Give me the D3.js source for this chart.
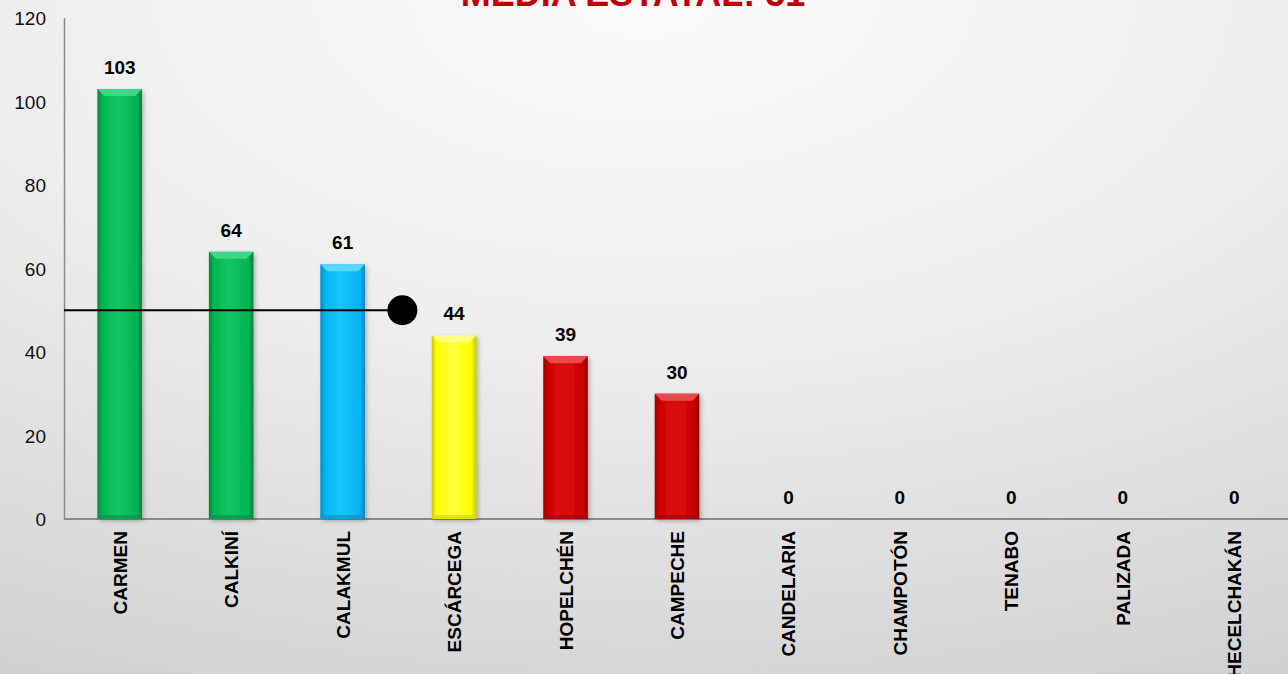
<!DOCTYPE html>
<meta charset="utf-8">
<script src="https://cdn.jsdelivr.net/npm/d3@7"></script>
<style>
body { margin: 0; }
svg { display: block; font-family: "Liberation Sans", Arial, sans-serif; }
.tick-label { font-size: 19px; fill: #111; }
.val { font-size: 19px; font-weight: bold; fill: #000; }
.cat { font-size: 19px; font-weight: bold; fill: #000; }
</style>
<body>
<script>

// municipios y valores
var categories = ["CARMEN", "CALKINÍ", "CALAKMUL", "ESCÁRCEGA", "HOPELCHÉN", "CAMPECHE",
                  "CANDELARIA", "CHAMPOTÓN", "TENABO", "PALIZADA", "HECELCHAKÁN"];
var values = [103, 64, 61, 44, 39, 30, 0, 0, 0, 0, 0];
var barColors = ["green", "green", "blue", "yellow", "red", "red",
                 "red", "red", "red", "red", "red"];
var yTicks = [0, 20, 40, 60, 80, 100, 120];
var meanLabel = "MEDIA ESTATAL: 51";
var meanLineValue = 50;

var width = 1288, height = 674;

// color sets: edge, body, highlight, bevel top
var palette = {
  green:  {edge: "#00853a", body: "#00b451", hi: "#12c863", top: "#3fd784"},
  blue:   {edge: "#0088c0", body: "#00b5f2", hi: "#1cc4ff", top: "#5ad6ff"},
  yellow: {edge: "#c8c800", body: "#ffff00", hi: "#ffff3a", top: "#ffff80"},
  red:    {edge: "#980000", body: "#cc0000", hi: "#dc1010", top: "#e84a4a"}
};

var svg = d3.select("body").append("svg")
    .attr("width", width)
    .attr("height", height);

var defs = svg.append("defs");

var bg = defs.append("radialGradient")
    .attr("id", "bg")
    .attr("cx", "50%").attr("cy", "0%")
    .attr("r", "115%")
    .attr("gradientUnits", "objectBoundingBox");
bg.append("stop").attr("offset", "0%").attr("stop-color", "#fbfbfb");
bg.append("stop").attr("offset", "45%").attr("stop-color", "#eeeeee");
bg.append("stop").attr("offset", "100%").attr("stop-color", "#cfcfcf");

Object.keys(palette).forEach(function(k) {
  var p = palette[k];
  var g = defs.append("linearGradient")
      .attr("id", "grad-" + k)
      .attr("x1", "0%").attr("x2", "100%").attr("y1", "0%").attr("y2", "0%");
  g.append("stop").attr("offset", "0%").attr("stop-color", p.edge);
  g.append("stop").attr("offset", "10%").attr("stop-color", p.body);
  g.append("stop").attr("offset", "45%").attr("stop-color", p.hi);
  g.append("stop").attr("offset", "88%").attr("stop-color", p.body);
  g.append("stop").attr("offset", "100%").attr("stop-color", p.edge);
});

var shadow = defs.append("filter").attr("id", "shadow")
    .attr("x", "-20%").attr("y", "-5%").attr("width", "150%").attr("height", "115%");
shadow.append("feDropShadow")
    .attr("dx", 2).attr("dy", 2).attr("stdDeviation", 2)
    .attr("flood-color", "#000").attr("flood-opacity", 0.25);

svg.append("rect")
    .attr("width", width).attr("height", height)
    .attr("fill", "url(#bg)");

var x = d3.scaleBand()
    .domain(categories)
    .range([64, 1290])
    .paddingInner(0.6)
    .paddingOuter(0.3);

var y = d3.scaleLinear()
    .domain([0, 120])
    .range([519, 18]);

// title (cut off at the top like the original)
svg.append("text")
    .attr("x", 633)
    .attr("y", 6)
    .attr("text-anchor", "middle")
    .attr("font-size", "36px")
    .attr("font-weight", "bold")
    .attr("fill", "#c00000")
    .text(meanLabel);

// axes lines
svg.append("line")
    .attr("x1", 64.5).attr("x2", 64.5)
    .attr("y1", y(120)).attr("y2", y(0))
    .attr("stroke", "#8a8a8a").attr("stroke-width", 1.5);

svg.append("line")
    .attr("x1", 64).attr("x2", width)
    .attr("y1", y(0)).attr("y2", y(0))
    .attr("stroke", "#8a8a8a").attr("stroke-width", 2);

svg.selectAll(".tick-label")
    .data(yTicks)
    .enter().append("text")
    .attr("class", "tick-label")
    .attr("x", 46)
    .attr("y", function(d) { return y(d) + 7; })
    .attr("text-anchor", "end")
    .text(function(d) { return d; });

// bars
var data = categories.map(function(c, i) {
  return {name: c, value: values[i], color: barColors[i]};
});

var bars = svg.append("g").selectAll("g")
    .data(data.filter(function(d) { return d.value > 0; }))
    .enter().append("g");

bars.append("rect")
    .attr("x", function(d) { return x(d.name); })
    .attr("y", function(d) { return y(d.value); })
    .attr("width", x.bandwidth())
    .attr("height", function(d) { return y(0) - y(d.value); })
    .attr("fill", function(d) { return "url(#grad-" + d.color + ")"; })
    .attr("filter", "url(#shadow)");

// bevel on top
var bev = 7;
bars.append("path")
    .attr("d", function(d) {
      var x0 = x(d.name), x1 = x0 + x.bandwidth(), t = y(d.value);
      return "M" + x0 + "," + t + "L" + x1 + "," + t +
             "L" + (x1 - bev) + "," + (t + bev) + "L" + (x0 + bev) + "," + (t + bev) + "Z";
    })
    .attr("fill", function(d) { return palette[d.color].top; });

// bottom darker strip
bars.append("rect")
    .attr("x", function(d) { return x(d.name) + 3; })
    .attr("y", y(0) - 4)
    .attr("width", x.bandwidth() - 6)
    .attr("height", 4)
    .attr("fill", function(d) { return palette[d.color].edge; })
    .attr("opacity", 0.5);

// value labels
svg.selectAll(".val")
    .data(data)
    .enter().append("text")
    .attr("class", "val")
    .attr("x", function(d) { return x(d.name) + x.bandwidth() / 2; })
    .attr("y", function(d) { return y(d.value) - 15; })
    .attr("text-anchor", "middle")
    .text(function(d) { return d.value; });

// category labels, rotated
svg.selectAll(".cat")
    .data(categories)
    .enter().append("text")
    .attr("class", "cat")
    .attr("transform", function(d) {
      return "translate(" + (x(d) + x.bandwidth() / 2 + 7) + "," + (y(0) + 12) + ") rotate(-90)";
    })
    .attr("text-anchor", "end")
    .text(function(d) { return d; });

// state mean line + marker
var markX = x("CALAKMUL") + x.bandwidth() / 2 + x.step() / 2 + 4;
svg.append("line")
    .attr("x1", 64).attr("x2", markX)
    .attr("y1", y(meanLineValue)).attr("y2", y(meanLineValue))
    .attr("stroke", "#000").attr("stroke-width", 1.8);

svg.append("circle")
    .attr("cx", markX)
    .attr("cy", y(meanLineValue))
    .attr("r", 15)
    .attr("fill", "#000");

</script>
</body>
